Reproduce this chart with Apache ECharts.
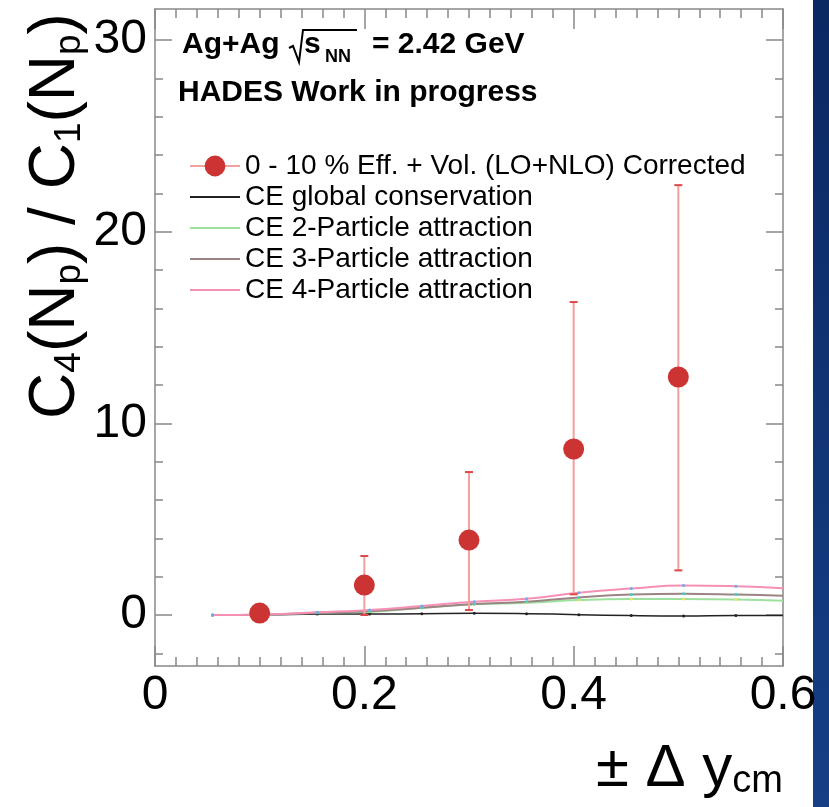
<!DOCTYPE html>
<html><head><meta charset="utf-8">
<script src="https://cdn.jsdelivr.net/npm/echarts@6/dist/echarts.min.js"></script>
<style>html,body{margin:0;padding:0;background:#fff}#c{width:829px;height:807px}</style>
</head><body><div id="c"></div>
<script>
// ---- data ----
const xPoints   = [0.1, 0.2, 0.3, 0.4, 0.5];
const yPoints   = [0.1, 1.56, 3.91, 8.66, 12.42];
const yErrLow   = [0.0, 0.0, 0.26, 1.08, 2.33];
const yErrHigh  = [0.2, 3.08, 7.46, 16.33, 22.43];
const xCurve    = [0.055, 0.105, 0.155, 0.205, 0.255, 0.305, 0.355, 0.405, 0.455, 0.505, 0.555, 0.6];
const ceGlobal  = [0, 0.01, 0.05, 0.05, 0.07, 0.09, 0.07, 0.02, -0.03, -0.05, -0.03, -0.03];
const ce2       = [0, 0.02, 0.12, 0.17, 0.38, 0.56, 0.64, 0.78, 0.83, 0.83, 0.81, 0.74];
const ce3       = [0, 0.02, 0.12, 0.20, 0.38, 0.57, 0.69, 0.92, 1.07, 1.11, 1.07, 1.00];
const ce4       = [0, 0.03, 0.14, 0.26, 0.47, 0.69, 0.85, 1.16, 1.38, 1.54, 1.50, 1.40];
const yMajorTicks = [0, 10, 20, 30];
const yMinorTicks = [-2, 2, 4, 6, 8, 12, 14, 16, 18, 22, 24, 26, 28];
const seriesNames = [
  '0 - 10 % Eff. + Vol. (LO+NLO) Corrected',
  'CE global conservation',
  'CE 2-Particle attraction',
  'CE 3-Particle attraction',
  'CE 4-Particle attraction'
];

const FONT = 'Liberation Sans, Arial, Helvetica, sans-serif';
const AX = '#888';
const chart = echarts.init(document.getElementById('c'), null, {renderer: 'canvas'});

function curve(name, vals, color, dot, width) {
  return {
    type: 'line', name: name, smooth: true,
    data: xCurve.map((x, i) => i === xCurve.length - 1 ? {value: [x, vals[i]], symbol: 'none'} : [x, vals[i]]),
    symbol: 'circle', symbolSize: 3, showSymbol: true,
    lineStyle: {color: color, width: width},
    itemStyle: {color: dot},
    emphasis: {disabled: true}, z: 3
  };
}

const yBase = {type: 'value', min: -2.66, max: 31.62, splitLine: {show: false}, gridIndex: 0};
const lineOn = {show: true, onZero: false, lineStyle: {color: AX, width: 1.5}};
const lineOff = {show: false, onZero: false};

const option = {
  backgroundColor: '#fff',
  animation: false,
  grid: {left: 155, right: 46, top: 9, bottom: 141, containLabel: false},
  xAxis: [
    {type: 'value', min: 0, max: 0.6, interval: 0.2, position: 'bottom',
     axisLine: lineOn,
     axisTick: {show: true, inside: true, length: 20, lineStyle: {color: AX, width: 1.5}},
     minorTick: {show: true, splitNumber: 10, length: 9, lineStyle: {color: AX, width: 1.5}},
     axisLabel: {fontSize: 48, color: '#000', fontFamily: FONT, margin: 6,
       formatter: v => v === 0 ? '0' : v.toFixed(1)},
     splitLine: {show: false}},
    {type: 'value', min: 0, max: 0.6, interval: 0.2, position: 'top',
     axisLine: lineOn,
     axisTick: {show: true, inside: true, length: 20, lineStyle: {color: AX, width: 1.5}},
     minorTick: {show: true, splitNumber: 10, length: 9, lineStyle: {color: AX, width: 1.5}},
     axisLabel: {show: false}, splitLine: {show: false}}
  ],
  yAxis: [
    Object.assign({}, yBase, {position: 'left',
      axisLine: lineOn,
      axisTick: {show: true, inside: true, length: 17, customValues: yMajorTicks, lineStyle: {color: AX, width: 1.5}},
      axisLabel: {show: true, customValues: yMajorTicks, fontSize: 48, color: '#000', fontFamily: FONT, margin: 8}}),
    Object.assign({}, yBase, {position: 'left',
      axisLine: lineOff,
      axisTick: {show: true, inside: true, length: 8, customValues: yMinorTicks, lineStyle: {color: AX, width: 1.5}},
      axisLabel: {show: false}}),
    Object.assign({}, yBase, {position: 'right',
      axisLine: lineOn,
      axisTick: {show: true, inside: true, length: 17, customValues: yMajorTicks, lineStyle: {color: AX, width: 1.5}},
      axisLabel: {show: false}}),
    Object.assign({}, yBase, {position: 'right',
      axisLine: lineOff,
      axisTick: {show: true, inside: true, length: 8, customValues: yMinorTicks, lineStyle: {color: AX, width: 1.5}},
      axisLabel: {show: false}})
  ],
  legend: {
    orient: 'vertical', left: 189, top: 152, padding: 0,
    itemWidth: 50, itemHeight: 26, itemGap: 3, selectedMode: false,
    textStyle: {fontSize: 28, fontFamily: FONT, color: '#000', lineHeight: 26},
    data: [
      {name: seriesNames[0], lineStyle: {color: '#f2a0a0', width: 2, opacity: 1}},
      {name: seriesNames[1], itemStyle: {opacity: 0}},
      {name: seriesNames[2], itemStyle: {opacity: 0}},
      {name: seriesNames[3], itemStyle: {opacity: 0}},
      {name: seriesNames[4], itemStyle: {opacity: 0}}
    ]
  },
  series: [
    curve(seriesNames[1], ceGlobal, '#222222', '#222222', 1.5),
    curve(seriesNames[2], ce2, '#9ee09e', '#e8e860', 2),
    curve(seriesNames[3], ce3, '#9c8484', '#40d0c0', 2),
    curve(seriesNames[4], ce4, '#f590b4', '#70a8e8', 2),
    {
      type: 'custom', name: 'errors', z: 4,
      data: xPoints.map((x, i) => [x, yErrLow[i], yErrHigh[i]]),
      renderItem: function (params, api) {
        const x = api.value(0), lo = api.value(1), hi = api.value(2);
        const p1 = api.coord([x, lo]), p2 = api.coord([x, hi]);
        return {type: 'group', children: [
          {type: 'line', shape: {x1: p1[0], y1: p1[1], x2: p2[0], y2: p2[1]}, style: {stroke: '#f2a0a0', lineWidth: 2}},
          {type: 'line', shape: {x1: p2[0] - 4, y1: p2[1], x2: p2[0] + 4, y2: p2[1]}, style: {stroke: '#e04848', lineWidth: 2}},
          {type: 'line', shape: {x1: p1[0] - 4, y1: p1[1], x2: p1[0] + 4, y2: p1[1]}, style: {stroke: '#e04848', lineWidth: 2}}
        ]};
      }
    },
    {
      type: 'line', name: seriesNames[0], z: 5,
      data: xPoints.map((x, i) => [x, yPoints[i]]),
      symbol: 'circle', symbolSize: 21, showSymbol: true,
      lineStyle: {opacity: 0, color: '#f2a0a0'},
      itemStyle: {color: '#cc3333'},
      emphasis: {disabled: true}
    }
  ],
  graphic: [
    {type: 'rect', shape: {x: 813, y: 0, width: 16, height: 807}, silent: true,
     style: {fill: new echarts.graphic.LinearGradient(0, 0, 0, 1, [{offset: 0, color: '#0a2862'}, {offset: 1, color: '#163f86'}])}},
    // header
    {type: 'text', x: 182, y: 45, style: {text: 'Ag+Ag', font: 'bold 30px ' + FONT, fill: '#000', verticalAlign: 'middle'}},
    {type: 'polyline', shape: {points: [[289, 48], [293, 46], [299, 62], [303, 30], [357, 30]]}, style: {stroke: '#000', lineWidth: 2, fill: null}},
    {type: 'text', x: 304, y: 45, style: {text: 's', font: 'bold 30px ' + FONT, fill: '#000', verticalAlign: 'middle'}},
    {type: 'text', x: 325, y: 57, style: {text: 'NN', font: 'bold 18px ' + FONT, fill: '#000', verticalAlign: 'middle'}},
    {type: 'text', x: 372, y: 45, style: {text: '= 2.42 GeV', font: 'bold 30px ' + FONT, fill: '#000', verticalAlign: 'middle'}},
    {type: 'text', x: 178, y: 93, style: {text: 'HADES Work in progress', font: 'bold 30px ' + FONT, fill: '#000', verticalAlign: 'middle'}},
    // y title
    {type: 'text', x: 56, y: 216, rotation: Math.PI / 2,
     style: {
       text: '{m|C}{s|4}{m|(N}{s|p}{m|) / C}{s|1}{m|(N}{s|p}{m|)}',
       align: 'center', verticalAlign: 'middle',
       rich: {
         m: {fontSize: 64, fontFamily: FONT, lineHeight: 64, fill: '#000'},
         s: {fontSize: 37, fontFamily: FONT, lineHeight: 20, verticalAlign: 'bottom', fill: '#000'}
       }
     }},
    // x title
    {type: 'text', x: 783, y: 769,
     style: {
       text: '{m|\u00B1 \u0394 y}{s|cm}',
       align: 'right', verticalAlign: 'middle',
       rich: {
         m: {fontSize: 60, fontFamily: FONT, lineHeight: 64, fill: '#000'},
         s: {fontSize: 38, fontFamily: FONT, lineHeight: 12, verticalAlign: 'bottom', fill: '#000'}
       }
     }}
  ]
};
chart.setOption(option);
</script>
</body></html>
